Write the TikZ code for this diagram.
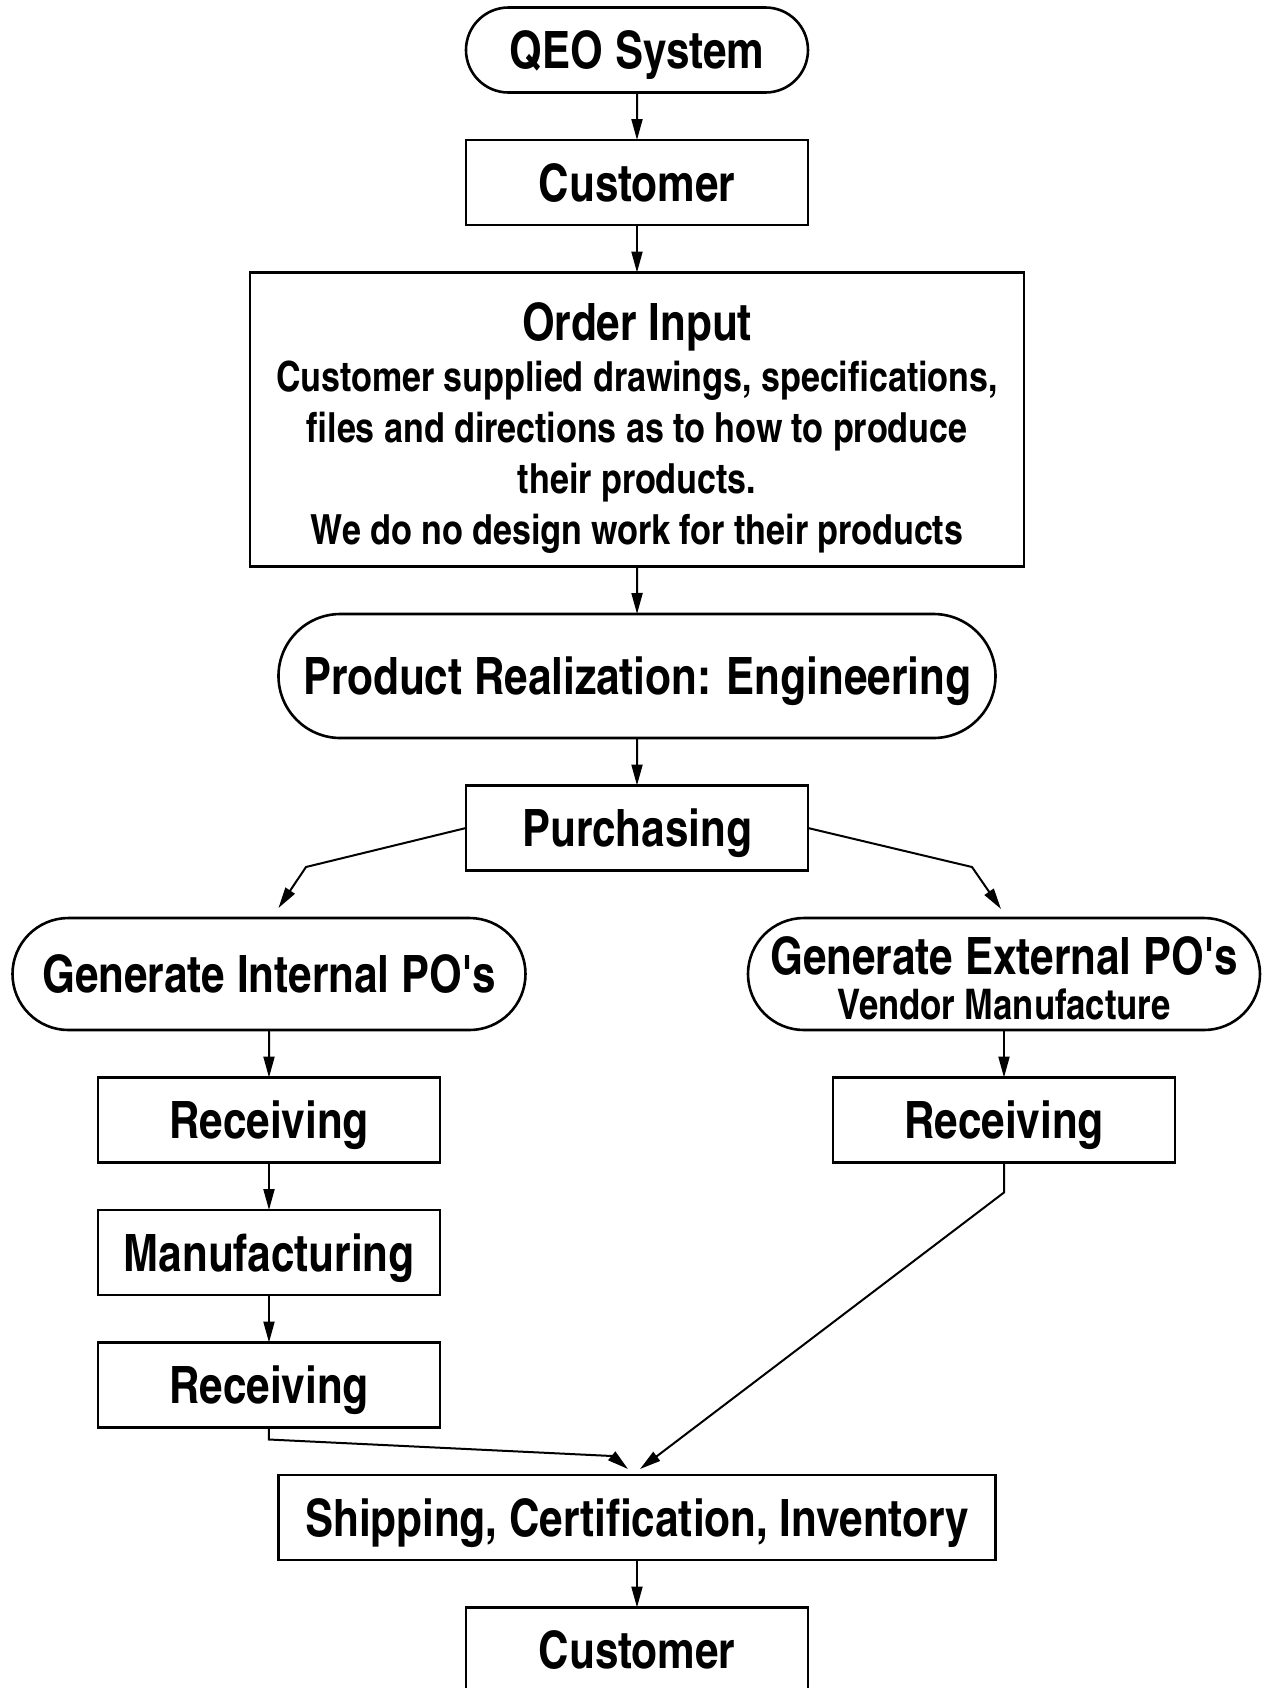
\documentclass[tikz,border=0pt]{standalone}
\usepackage{fontspec}
\setmainfont{texgyreheroscn-bold.otf}
\usetikzlibrary{shapes.misc,arrows.meta,positioning,calc}

\begin{document}
\begin{tikzpicture}[
    node distance=23.75pt,
    every node/.style={font=\fontsize{25.75}{30}\selectfont},
    block/.style={rectangle, draw, line width=1.3pt, outer sep=0pt, minimum width=171pt, minimum height=42.5pt, text centered, inner sep=0pt, text height=18.5pt, text depth=0pt},
    term/.style={rounded rectangle, draw, line width=1.3pt, outer sep=0pt, minimum width=171pt, minimum height=42.5pt, text centered, inner sep=0pt, text height=18.5pt, text depth=0pt},
    arrow/.style={-{Triangle[length=10.5pt,width=5.5pt]}, line width=1pt}
]

% Main column
\node[term] (qeo) {QEO System};
\node[block, below=of qeo] (cust1) {Customer};
\node[block, below=of cust1, minimum width=387pt, minimum height=147pt] (order) {};
\node[align=center, font=\fontsize{20.75}{25.5}\selectfont] (ordertxt) at ([yshift=-4.3pt]order.center)
    {{\fontsize{25.75}{30}\selectfont Order Input}\\
     Customer supplied drawings, specifications,\\
     files and directions as to how to produce\\
     their products.\\
     We do no design work for their products};
\node[term, below=of order, minimum width=358.5pt, minimum height=62pt] (prod) {Product Realization: Engineering};
\node[block, below=of prod] (purch) {Purchasing};

% Internal branch
\node[term, below=of purch, xshift=-184pt, minimum width=256.5pt, minimum height=56pt] (genint) {Generate Internal PO\textquotesingle s};
\node[block, below=of genint] (recL1) {Receiving};
\node[block, below=of recL1] (manu) {Manufacturing};
\node[block, below=of manu] (recL2) {Receiving};

% External branch
\node[term, below=of purch, xshift=183.5pt, minimum width=256pt, minimum height=56pt] (genext) {};
\node[align=center, font=\fontsize{21.1}{22.5}\selectfont] (genexttxt) at ([yshift=-2pt]genext.center)
    {{\fontsize{25.75}{30}\selectfont Generate External PO\textquotesingle s}\\ Vendor Manufacture};
\node[block, below=of genext] (recR) {Receiving};

% Output
\node[block, below=of recL2, xshift=184pt, minimum width=358.5pt] (ship) {Shipping, Certification, Inventory};
\node[block, below=of ship] (cust2) {Customer};

% Arrows
\draw[arrow] (qeo) -- (cust1);
\draw[arrow] (cust1) -- (order);
\draw[arrow] (order) -- (prod);
\draw[arrow] (prod) -- (purch);
\draw[arrow] (purch.west) -- ++(-80pt,-19.5pt) -- ([shift={(4.75pt,5pt)}]genint.north);
\draw[arrow] (purch.east) -- ++(82pt,-19.5pt) -- ([shift={(-1.5pt,4.5pt)}]genext.north);
\draw[arrow] (genint) -- (recL1);
\draw[arrow] (recL1) -- (manu);
\draw[arrow] (manu) -- (recL2);
\draw[arrow] (genext) -- (recR);
\draw[arrow] (recL2.south) -- ++(0,-6pt) -- ([shift={(-12.5pt,9.5pt)}]ship.north) -- ([shift={(-4.5pt,3pt)}]ship.north);
\draw[arrow] (recR.south) -- ++(0,-15pt) -- ([shift={(1.5pt,3pt)}]ship.north);
\draw[arrow] (ship) -- (cust2);

\pgfresetboundingbox
\useasboundingbox ([xshift=-318.5pt,yshift=3.75pt]qeo.north) rectangle ++(631pt,-844pt);
\end{tikzpicture}
\end{document}
